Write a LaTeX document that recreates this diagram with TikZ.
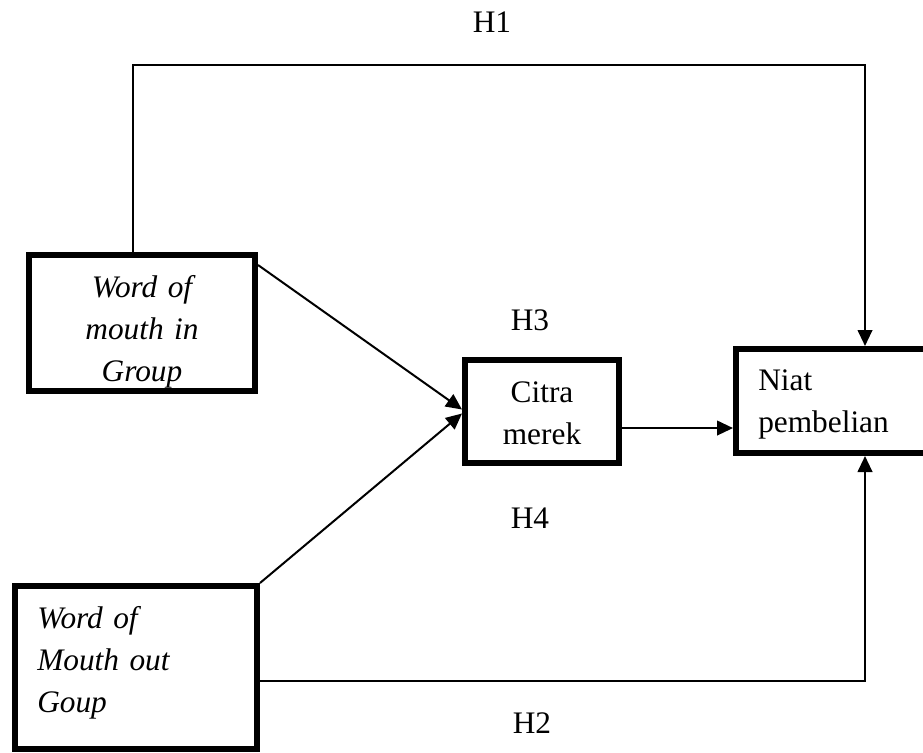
\documentclass[tikz,border=0pt]{standalone}
\usepackage{fontspec}
\setmainfont{Liberation Serif}
\usetikzlibrary{arrows.meta}
\begin{document}
\begin{tikzpicture}[x=0.75pt,y=-0.75pt]
  \tikzstyle{construct}=[draw,line width=4.5pt,outer sep=2.25pt,inner sep=0pt]
  \tikzstyle{words}=[inner sep=0pt,font=\fontsize{23.5}{31.5}\selectfont]
  \tikzstyle{link}=[draw,line width=1.5pt,-{Triangle[length=12pt,width=11pt]}]
  \useasboundingbox (0,0) rectangle (923,752);
  % texts
  \node [words,font=\fontsize{23.5}{31.5}\selectfont\itshape,text width=150pt,align=center,anchor=base] (wominTxt) at (142,297) {Word of\\mouth in\\Group};
  \node [words,font=\fontsize{23.5}{31.5}\selectfont\itshape,text width=170pt,align=left,anchor=base west] (womoutTxt) at (37,628) {Word of\\Mouth out\\Goup};
  \node [words,text width=97.5pt,align=center,anchor=base] (citraTxt) at (542,402) {Citra\\merek};
  \node [words,text width=150pt,align=left,anchor=base west] (niatTxt) at (758,390) {Niat\\pembelian};
  % boxes
  \node [construct,minimum width=169.5pt,minimum height=102pt] (womin) at (142,323) {};
  \node [construct,minimum width=181.5pt,minimum height=122.25pt] (womout) at (136,667.5) {};
  \node [construct,minimum width=115.5pt,minimum height=77.25pt] (citra) at (542,411.5) {};
  \node [construct,minimum width=147pt,minimum height=78pt] (niat) at (834,401) {};
  % hypothesis labels
  \node [words,anchor=base] (h1) at (492,33) {H1};
  \node [words,anchor=base] (h3) at (530,330) {H3};
  \node [words,anchor=base] (h4) at (530,528) {H4};
  \node [words,anchor=base] (h2) at (532,733) {H2};
  % paths
  \coordinate (turnL) at (133,65);
  \coordinate (turnR) at (865,65);
  \draw [link] (turnL |- womin.north) -- (turnL) -- (turnR) -- (turnR |- niat.north);
  \draw [link] ([yshift=-9.75pt]womin.north east) -- ([yshift=1.5pt]citra.west);
  \draw [link] (womout.north east) -- ([yshift=-1.5pt]citra.west);
  \draw [link] ([yshift=-12.4pt]citra.east) coordinate (bc) -- (bc -| niat.west);
  \draw [link] ([yshift=-10.1pt]womout.east) coordinate (dc) -- (dc -| turnR) -- (turnR |- niat.south);
\end{tikzpicture}
\end{document}
